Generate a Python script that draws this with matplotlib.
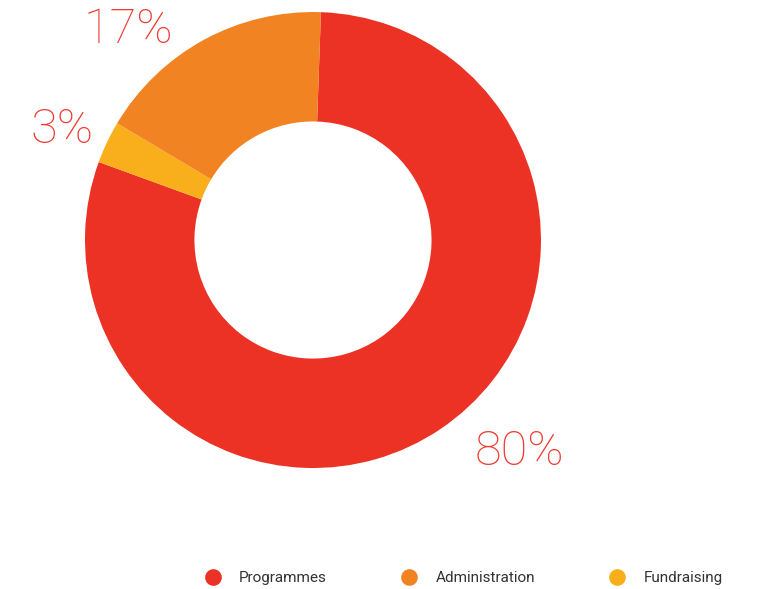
import matplotlib
matplotlib.use('Agg')
import matplotlib.pyplot as plt
from matplotlib.lines import Line2D

# dados
categorias = ['Programmes', 'Fundraising', 'Administration']
valores = [80, 3, 17]
cores = ['#EC3125', '#F9AF1B', '#F28323']
rotulos = ['80%', '3%', '17%']
legenda_ordem = ['Programmes', 'Administration', 'Fundraising']

fig = plt.figure(figsize=(7.63, 5.89), dpi=100)
ax = fig.add_axes([0.1114, 0.2054, 0.5976, 0.7742])

ax.pie(valores, colors=cores, startangle=88, counterclock=False, radius=1.0,
       wedgeprops=dict(width=0.48, edgecolor='none'))
ax.set_xlim(-1, 1)
ax.set_ylim(-1, 1)
ax.set_aspect('equal')
ax.axis('off')

# posicoes dos rotulos percentuais
pos_rotulos = [(0.905, -0.93), (-1.10, 0.482), (-0.811, 0.921)]
for (x, y), txt in zip(pos_rotulos, rotulos):
    ax.text(x, y, txt, ha='center', va='center', fontsize=35, color='#EE3A2F',
            family=['Roboto', 'DejaVu Sans'], fontweight='light', clip_on=False)

# legenda
mapa_cor = dict(zip(categorias, cores))
handles = [Line2D([], [], marker='o', linestyle='none', markersize=12,
                  markerfacecolor=mapa_cor[c], markeredgecolor='none') for c in legenda_ordem]
fig.legend(handles, legenda_ordem, loc='center', bbox_to_anchor=(0.603, 0.018),
           ncol=3, frameon=False, handletextpad=0.7, columnspacing=4.4,
           labelcolor='#333333',
           prop={'family': ['Roboto', 'DejaVu Sans'], 'size': 11})

fig.savefig('out.png', dpi=100)
